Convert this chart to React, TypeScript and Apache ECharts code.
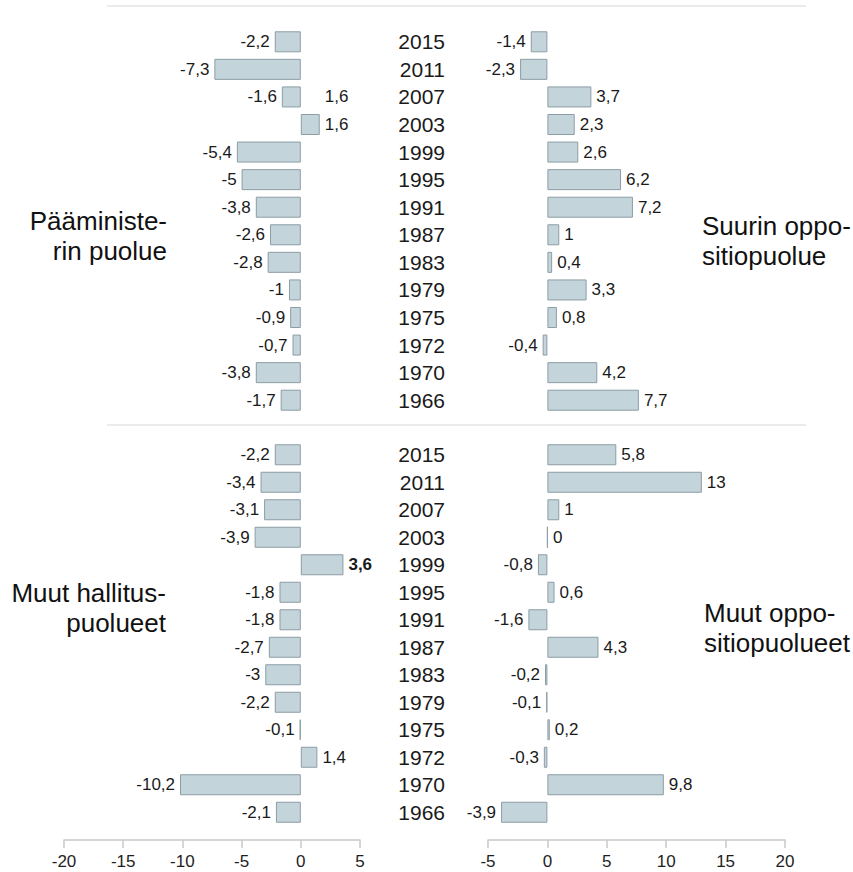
import React, { useEffect, useRef } from "react";
import * as echarts from "echarts";

const years = ["2015", "2011", "2007", "2003", "1999", "1995", "1991", "1987", "1983", "1979", "1975", "1972", "1970", "1966"];
const pmParty = [-2.2, -7.3, -1.6, 1.6, -5.4, -5, -3.8, -2.6, -2.8, -1, -0.9, -0.7, -3.8, -1.7];
const pmStrayLabel: (number | string)[] = ["-", "-", 1.6, "-", "-", "-", "-", "-", "-", "-", "-", "-", "-", "-"];
const largestOpp = [-1.4, -2.3, 3.7, 2.3, 2.6, 6.2, 7.2, 1, 0.4, 3.3, 0.8, -0.4, 4.2, 7.7];
const otherGov = [-2.2, -3.4, -3.1, -3.9, 3.6, -1.8, -1.8, -2.7, -3, -2.2, -0.1, 1.4, -10.2, -2.1];
const otherGovBold = ["1999"];
const otherOpp = [5.8, 13, 1, 0, -0.8, 0.6, -1.6, 4.3, -0.2, -0.1, 0.2, -0.3, 9.8, -3.9];

const leftTicks = [-20, 5];
const rightTicks = [-5, 20];

const titles = {
  pm: ["Pääministe-", "rin puolue"],
  opp: ["Suurin oppo-", "sitiopuolue"],
  gov: ["Muut hallitus-", "puolueet"],
  others: ["Muut oppo-", "sitiopuolueet"],
};

const FONT = "'Liberation Sans', Arial, Helvetica, sans-serif";
const fmt = (v: number) => String(v).replace(".", ",");

function barData(vals: number[], boldYears: string[] = []) {
  return vals.map((v, i) => ({
    value: v,
    label: {
      position: v < 0 ? "left" : "right",
      fontWeight: boldYears.includes(years[i]) ? "bold" : "normal",
    },
  }));
}

export default function App() {
  const ref = useRef<HTMLDivElement>(null);
  useEffect(() => {
    if (!ref.current) return;
    const chart = echarts.init(ref.current, undefined, { renderer: "svg" });
    const gridTop = { top: 28, height: 386 };
    const gridBot = { top: 441, height: 385 };
    const grids = [
      { left: 64, width: 296, ...gridTop },
      { left: 488, width: 297, ...gridTop },
      { left: 64, width: 296, ...gridBot },
      { left: 488, width: 297, ...gridBot },
    ];
    const ranges = [leftTicks, rightTicks, leftTicks, rightTicks];
    const xAxes = grids.map((_, i) => ({
      type: "value",
      gridIndex: i,
      min: ranges[i][0],
      max: ranges[i][1],
      interval: 5,
      show: i >= 2,
      position: "bottom",
      offset: 14,
      axisLine: { show: true, onZero: false, lineStyle: { color: "#c8c8c8", width: 1.5 } },
      axisTick: { show: true, inside: false, length: 8, lineStyle: { color: "#c8c8c8", width: 1.5 } },
      axisLabel: { color: "#1e1e1e", fontSize: 17, fontFamily: FONT, margin: 13 },
      splitLine: { show: false },
    }));
    const yAxes = grids.map((_, i) => ({
      type: "category",
      gridIndex: i,
      data: years,
      inverse: true,
      position: "left",
      axisLine: { show: false, onZero: false },
      axisTick: { show: false },
      axisLabel: {
        show: i % 2 === 1,
        color: "#1a1a1a",
        fontSize: 21,
        fontFamily: FONT,
        margin: 43,
      },
      splitLine: { show: false },
    }));
    const barStyle = { color: "#c4d4db", borderColor: "#8c9da5", borderWidth: 1 };
    const labelBase = {
      show: true,
      color: "#1a1a1a",
      fontSize: 17,
      fontFamily: FONT,
      distance: 5,
      formatter: (p: any) => fmt(p.value),
    };
    const mk = (idx: number, data: any[]) => ({
      type: "bar",
      xAxisIndex: idx,
      yAxisIndex: idx,
      data,
      barWidth: 21,
      itemStyle: barStyle,
      label: labelBase,
    });
    const graphicTexts: any[] = [];
    const addTitle = (lines: string[], x: number, y: number, align: string) => {
      lines.forEach((t, k) => {
        graphicTexts.push({
          type: "text",
          x,
          y: y + k * 30,
          style: {
            text: t,
            font: `26px ${FONT}`,
            fill: "#111",
            textAlign: align,
            textVerticalAlign: "middle",
          },
        });
      });
    };
    addTitle(titles.pm, 167, 221, "right");
    addTitle(titles.opp, 702, 226, "left");
    addTitle(titles.gov, 166, 593, "right");
    addTitle(titles.others, 704, 613, "left");

    chart.setOption({
      animation: false,
      backgroundColor: "#ffffff",
      grid: grids,
      xAxis: xAxes,
      yAxis: yAxes,
      series: [
        { ...mk(0, barData(pmParty)), barGap: "-100%" },
        {
          type: "bar",
          xAxisIndex: 0,
          yAxisIndex: 0,
          data: pmStrayLabel,
          barWidth: 21,
          barGap: "-100%",
          itemStyle: { color: "rgba(0,0,0,0)" },
          label: { ...labelBase, position: "right" },
          silent: true,
        },
        mk(1, barData(largestOpp)),
        mk(2, barData(otherGov, otherGovBold)),
        mk(3, barData(otherOpp)),
      ],
      graphic: [
        {
          type: "line",
          shape: { x1: 107, y1: 6, x2: 806, y2: 6 },
          style: { stroke: "#ebebeb", lineWidth: 2 },
        },
        {
          type: "line",
          shape: { x1: 107, y1: 425, x2: 806, y2: 425 },
          style: { stroke: "#ebebeb", lineWidth: 2 },
        },
        ...graphicTexts,
      ],
    });
    return () => chart.dispose();
  }, []);
  return (
    <div
      ref={ref}
      style={{ position: "absolute", left: 0, top: 0, width: 853, height: 872, background: "#fff" }}
    />
  );
}
